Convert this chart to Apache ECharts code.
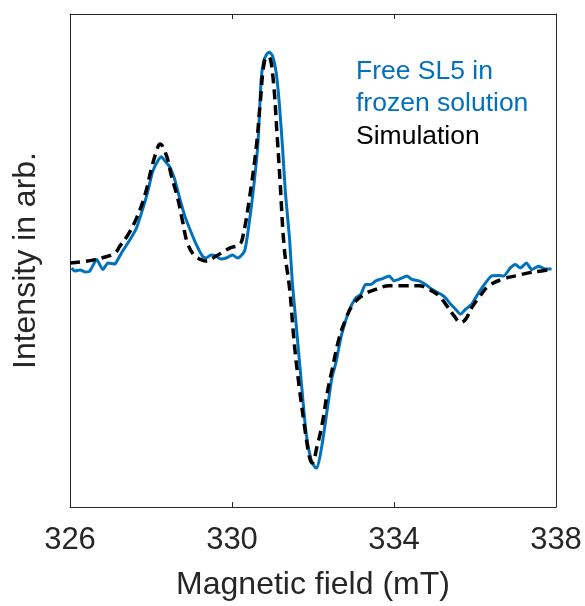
<!DOCTYPE html>
<html>
<head>
<meta charset="utf-8">
<script src="https://cdn.jsdelivr.net/npm/echarts@6/dist/echarts.min.js"></script>
<style>html,body{margin:0;padding:0;background:#fff;}#c{width:585px;height:606px;}</style>
</head>
<body>
<div id="c"></div>
<script>
var xTicks = [326, 330, 334, 338];
var seriesNames = ['Free SL5 in\nfrozen solution', 'Simulation'];
// experimental spectrum [field mT, intensity arb.]
var experiment = [
[326.04,-1],[326.12,-2.5],[326.25,-2],[326.37,-3],[326.49,-2.5],[326.66,3.2],[326.81,-1.8],[326.94,1.5],
[327.11,1],[327.18,3.2],[327.30,7.5],[327.48,13.2],[327.64,19],[327.80,29],[327.92,37.5],[328.04,47.5],
[328.17,53],[328.26,55],[328.34,53],[328.46,50],[328.58,44],[328.71,34],[328.83,25.5],[328.95,19],
[329.12,10.7],[329.27,5],[329.36,4],[329.48,5.5],[329.61,5],[329.72,3.5],[329.86,4],[330.01,5.5],[330.14,4],
[330.31,7.5],[330.43,22.5],[330.55,42.5],[330.64,61.5],[330.72,94],[330.78,103],[330.85,106.5],[330.92,107.7],
[331.00,106],[331.09,97.5],[331.17,81.5],[331.25,59],[331.32,36.5],[331.42,14],[331.49,-8.5],[331.58,-28.5],
[331.70,-56],[331.83,-84.3],[331.95,-97.5],[332.05,-101.5],[332.10,-101.8],[332.23,-89.3],[332.35,-72.5],
[332.47,-56],[332.56,-49.3],[332.69,-36],[332.77,-30],[332.89,-22.5],[333.06,-16],[333.18,-14.3],[333.30,-9.3],
[333.43,-9.3],[333.55,-7.5],[333.70,-6.5],[333.88,-5],[334.00,-7.5],[334.12,-6.8],[334.32,-5],[334.44,-6.8],
[334.62,-7.5],[334.78,-9.3],[334.94,-11.8],[335.16,-14.3],[335.27,-16],[335.40,-19.3],[335.52,-21.8],
[335.64,-24.3],[335.77,-21.8],[335.92,-19.3],[336.09,-13.5],[336.26,-8.5],[336.41,-5],[336.58,-4.8],
[336.71,-5],[336.87,-1],[337.00,0.7],[337.12,-1],[337.27,1.5],[337.40,-1.8],[337.57,-0.2],[337.73,-1.5],[337.89,-1.5]
];
// simulated spectrum
var simulation = [
[326.00,1.5],[326.25,2],[326.62,3.2],[326.78,4],[327.11,6.5],[327.23,10],[327.43,15.7],[327.64,24],
[327.85,35.7],[328.01,49],[328.13,57.5],[328.22,61.5],[328.38,55.7],[328.50,45.7],[328.66,34],[328.78,22.5],
[328.90,11.5],[329.08,5],[329.24,3.2],[329.36,2.5],[329.61,5],[329.94,9],[330.18,10.7],[330.26,14],
[330.43,34],[330.60,60],[330.70,83],[330.80,103],[330.90,105.5],[331.00,97.5],[331.12,64],[331.19,41.5],
[331.29,9],[331.42,-11],[331.54,-39.5],[331.66,-61],[331.78,-79.3],[331.91,-96],[331.98,-99.3],[332.10,-91],
[332.23,-79.3],[332.35,-64.3],[332.47,-52.5],[332.65,-36],[332.81,-26.8],[332.97,-20],[333.21,-15],
[333.55,-11.8],[333.88,-10],[334.29,-10],[334.62,-10],[334.86,-11.8],[335.11,-15],[335.30,-20],[335.48,-25],
[335.64,-28.5],[335.77,-26.8],[335.92,-21],[336.13,-15],[336.34,-10],[336.66,-6.8],[337.00,-5],[337.32,-3.5],
[337.64,-2.5],[337.86,-1.8]
];

var axisColor = '#262626';
var font = 'Liberation Sans, Arial, Helvetica, sans-serif';
var chart = echarts.init(document.getElementById('c'), null, {renderer:'canvas'});
var baseX = {
  type:'value', min:326, max:338, interval:4,
  axisLine:{show:true, onZero:false, lineStyle:{color:axisColor, width:1}},
  axisTick:{show:true, inside:true, length:5, lineStyle:{color:axisColor, width:1}},
  splitLine:{show:false}
};
chart.setOption({
  animation:false,
  backgroundColor:'#fff',
  grid:{left:70, right:29, top:14, bottom:95, containLabel:false},
  legend:{
    show:true, orient:'vertical', left:346, top:50, icon:'none', itemWidth:0, itemHeight:0, itemGap:0,
    selectedMode:false,
    textStyle:{fontSize:26.5, lineHeight:32.5, fontFamily:font},
    data:[
      {name:seriesNames[0], textStyle:{color:'#0072BD'}},
      {name:seriesNames[1], textStyle:{color:'#000000'}}
    ]
  },
  xAxis:[
    Object.assign({}, baseX, {
      position:'bottom', name:'Magnetic field (mT)', nameLocation:'middle', nameGap:62,
      nameTextStyle:{fontSize:32, color:axisColor, fontFamily:font},
      axisLabel:{show:true, margin:18, fontSize:31, color:axisColor, fontFamily:font,
        formatter:function(v){ return xTicks.indexOf(v) >= 0 ? String(v) : ''; }}
    }),
    Object.assign({}, baseX, {position:'top', axisLabel:{show:false}})
  ],
  yAxis:[
    {type:'value', min:-121.5, max:127, position:'left',
      name:'Intensity in arb.', nameLocation:'middle', nameGap:28,
      nameTextStyle:{fontSize:32, color:axisColor, fontFamily:font},
      axisLine:{show:true, onZero:false, lineStyle:{color:axisColor, width:1}},
      axisTick:{show:false}, axisLabel:{show:false}, splitLine:{show:false}},
    {type:'value', min:-121.5, max:127, position:'right',
      axisLine:{show:true, onZero:false, lineStyle:{color:axisColor, width:1}},
      axisTick:{show:false}, axisLabel:{show:false}, splitLine:{show:false}}
  ],
  series:[
    {name:seriesNames[0], type:'line', data:experiment, showSymbol:false, symbol:'none', smooth:0.2,
      lineStyle:{color:'#0072BD', width:3}, itemStyle:{color:'#0072BD'}, z:2},
    {name:seriesNames[1], type:'line', data:simulation, showSymbol:false, symbol:'none', smooth:0.4,
      lineStyle:{color:'#000000', width:3.5, type:[10,6]}, itemStyle:{color:'#000'}, z:3}
  ]
});
</script>
</body>
</html>
